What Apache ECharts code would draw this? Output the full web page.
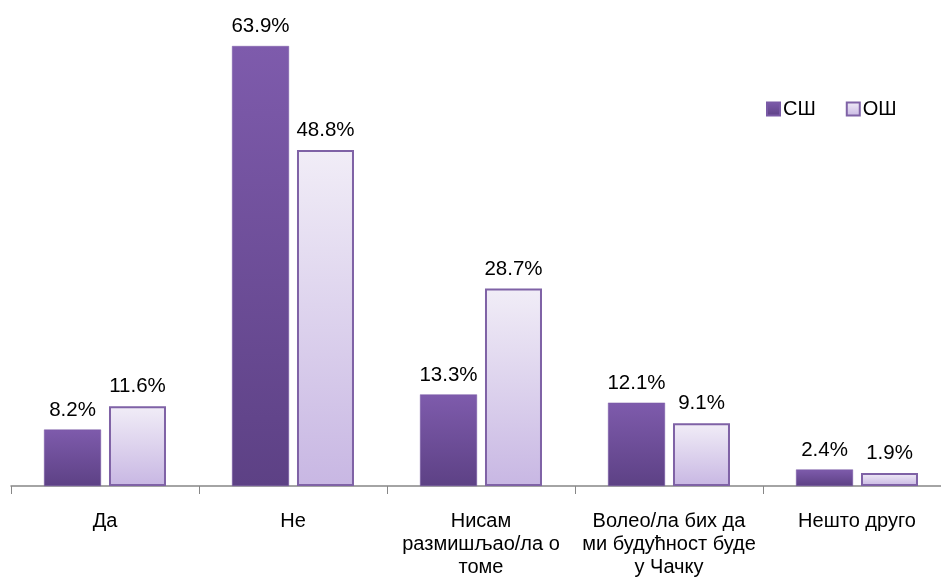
<!DOCTYPE html>
<html>
<head>
<meta charset="utf-8">
<script src="https://cdn.jsdelivr.net/npm/echarts@6/dist/echarts.min.js"></script>
<style>
  html, body { margin: 0; padding: 0; background: #fff; }
  #chart { width: 941px; height: 578px; }
</style>
</head>
<body>
<div id="chart"></div>
<script>
const categories = [
  'Да',
  'Не',
  'Нисам\nразмишљао/ла о\nтоме',
  'Волео/ла бих да\nми будућност буде\nу Чачку',
  'Нешто друго'
];
const seriesNames = ['СШ', 'ОШ'];
const valuesSS = [8.2, 63.9, 13.3, 12.1, 2.4];
const valuesOS = [11.6, 48.8, 28.7, 9.1, 1.9];

const font = '"Liberation Sans", Arial, sans-serif';

const darkFill = new echarts.graphic.LinearGradient(0, 0, 0, 1, [
  { offset: 0, color: '#7E5BAC' },
  { offset: 1, color: '#5D4185' }
]);
const lightFill = new echarts.graphic.LinearGradient(0, 0, 0, 1, [
  { offset: 0, color: '#F1EDF7' },
  { offset: 1, color: '#C8B7E3' }
]);

const valueLabel = {
  show: true,
  position: 'top',
  distance: 9,
  formatter: p => p.value.toFixed(1) + '%',
  fontSize: 20.5,
  color: '#000',
  fontFamily: font
};

const chart = echarts.init(document.getElementById('chart'));
chart.setOption({
  animation: false,
  textStyle: { fontFamily: font },
  grid: { left: 11, width: 940, top: 4, bottom: 92, outerBoundsMode: 'none', containLabel: false },
  legend: {
    data: seriesNames,
    left: 761,
    top: 94,
    itemWidth: 13,
    itemHeight: 13,
    itemGap: 30,
    icon: 'rect',
    textStyle: { fontFamily: font, fontSize: 20, color: '#000', padding: [0, 0, 0, -2] }
  },
  xAxis: {
    type: 'category',
    data: categories,
    axisLine: { lineStyle: { color: '#878787', width: 1.5 } },
    axisTick: { show: true, length: 8, lineStyle: { color: '#878787', width: 1 } },
    axisLabel: {
      interval: 0,
      margin: 24,
      fontSize: 20,
      lineHeight: 23,
      color: '#000',
      fontFamily: font
    }
  },
  yAxis: {
    type: 'value',
    min: 0,
    max: 70,
    show: false,
    splitLine: { show: false }
  },
  series: [
    {
      name: seriesNames[0],
      type: 'bar',
      data: valuesSS,
      barWidth: 57,
      barGap: '14%',
      itemStyle: { color: darkFill, borderColor: '#7A5AA6', borderWidth: 0.5 },
      label: valueLabel
    },
    {
      name: seriesNames[1],
      type: 'bar',
      data: valuesOS,
      barWidth: 57,
      itemStyle: { color: lightFill, borderColor: '#7F62A6', borderWidth: 2 },
      label: valueLabel
    }
  ]
});
</script>
</body>
</html>
